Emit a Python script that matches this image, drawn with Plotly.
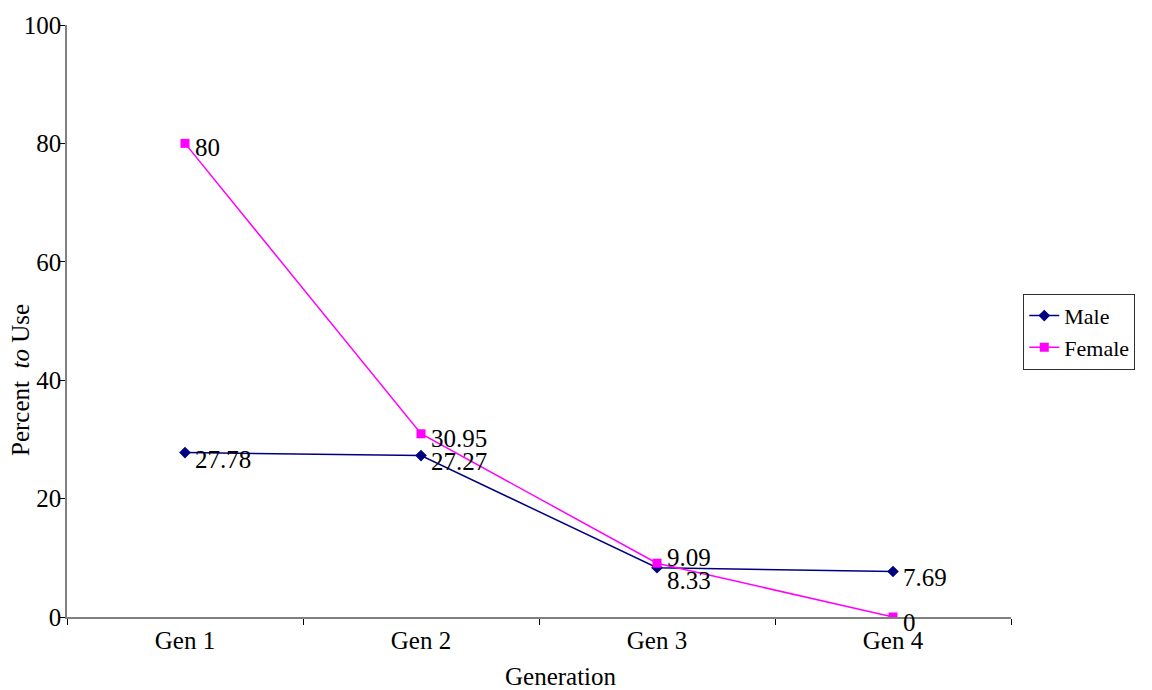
import plotly.graph_objects as go

# Share of each generation that uses the form, by sex
generations = ["Gen 1", "Gen 2", "Gen 3", "Gen 4"]
male = [27.78, 27.27, 8.33, 7.69]
female = [80, 30.95, 9.09, 0]
y_ticks = [0, 20, 40, 60, 80, 100]

# vertical nudge (px) for each value label so close labels don't collide
male_label_shift = [-7, -6, -13, -6]
female_label_shift = [-4, -5, 6, -5]

FONT = "Liberation Serif"
SIZE = 25
NAVY = "#000080"
MAGENTA = "#FF00FF"
AXIS_GRAY = "#808080"

fig = go.Figure()
fig.add_trace(go.Scatter(
    x=generations, y=male, name="Male", mode="lines+markers",
    line=dict(color=NAVY, width=1.5),
    marker=dict(symbol="diamond", size=9, color=NAVY),
))
fig.add_trace(go.Scatter(
    x=generations, y=female, name="Female", mode="lines+markers",
    line=dict(color=MAGENTA, width=1.5),
    marker=dict(symbol="square", size=9, color=MAGENTA),
))

annotations = []
for series, shifts in ((male, male_label_shift), (female, female_label_shift)):
    for g, v, s in zip(generations, series, shifts):
        annotations.append(dict(
            x=g, y=v, xref="x", yref="y", text=f"{v:g}", showarrow=False,
            xanchor="left", yanchor="middle", xshift=8, yshift=s,
            font=dict(family=FONT, size=SIZE, color="#000000"),
        ))

annotations.append(dict(
    text="Percent  <i>to</i> Use", textangle=-90, showarrow=False,
    xref="paper", yref="paper", x=-0.05, y=0.40, xanchor="center", yanchor="middle",
    font=dict(family=FONT, size=SIZE, color="#000000"),
))
annotations.append(dict(
    text="Generation", showarrow=False,
    xref="paper", yref="paper", x=0.5235, y=-0.1, xanchor="center", yanchor="middle",
    font=dict(family=FONT, size=SIZE, color="#000000"),
))

fig.update_layout(
    width=1152, height=690,
    margin=dict(l=67, r=141, t=18, b=73),
    paper_bgcolor="white", plot_bgcolor="white",
    font=dict(family=FONT, size=SIZE, color="#000000"),
    showlegend=True,
    legend=dict(
        x=1.013, y=0.546, xanchor="left", yanchor="top",
        bordercolor="#303030", borderwidth=1, bgcolor="white",
        font=dict(family=FONT, size=22), tracegroupgap=0,
        itemwidth=30,
    ),
    annotations=annotations,
)
fig.update_xaxes(
    type="category", range=[-0.5, 3.5], tickson="boundaries",
    ticks="outside", ticklen=6, tickcolor="#000000", tickwidth=1,
    showline=True, linecolor=AXIS_GRAY, linewidth=1.5,
    showgrid=False, zeroline=False,
    tickfont=dict(family=FONT, size=SIZE),
)
fig.update_yaxes(
    range=[0, 100], tickvals=y_ticks, ticks="outside", ticklen=5,
    tickcolor="#000000", tickwidth=1,
    showline=True, linecolor=AXIS_GRAY, linewidth=1.5,
    showgrid=False, zeroline=False, ticklabelstandoff=-6,
    tickfont=dict(family=FONT, size=SIZE),
)

fig.write_html("out.html")
